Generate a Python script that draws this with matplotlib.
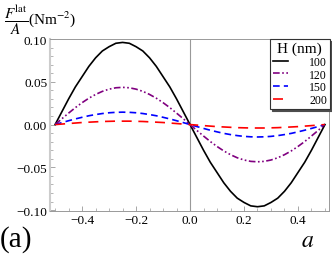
import numpy as np
import matplotlib
matplotlib.use("Agg")
import matplotlib.pyplot as plt
from matplotlib.ticker import MultipleLocator, FixedLocator

plt.rcParams['font.family'] = ['Liberation Serif', 'DejaVu Serif']
plt.rcParams['mathtext.fontset'] = 'stix'

# x grid (a)
a_vals = np.linspace(-0.5, 0.5, 41)

f_100 = [0.0, 0.015, 0.030, 0.044, 0.056, 0.068, 0.078, 0.086, 0.091, 0.095, 0.096,
         0.095, 0.091, 0.086, 0.078, 0.068, 0.056, 0.044, 0.030, 0.015, 0.0,
         -0.015, -0.030, -0.044, -0.056, -0.068, -0.078, -0.086, -0.091, -0.095, -0.096,
         -0.095, -0.091, -0.086, -0.078, -0.068, -0.056, -0.044, -0.030, -0.015, 0.0]
f_120 = [0.0, 0.0068, 0.0134, 0.0198, 0.0256, 0.0308, 0.0352, 0.0388, 0.0414, 0.0430, 0.0435,
         0.0430, 0.0414, 0.0388, 0.0352, 0.0308, 0.0256, 0.0198, 0.0134, 0.0068, 0.0,
         -0.0068, -0.0134, -0.0198, -0.0256, -0.0308, -0.0352, -0.0388, -0.0414, -0.0430, -0.0435,
         -0.0430, -0.0414, -0.0388, -0.0352, -0.0308, -0.0256, -0.0198, -0.0134, -0.0068, 0.0]
f_150 = [0.0, 0.0023, 0.0045, 0.0066, 0.0085, 0.0103, 0.0117, 0.0129, 0.0138, 0.0143, 0.0145,
         0.0143, 0.0138, 0.0129, 0.0117, 0.0103, 0.0085, 0.0066, 0.0045, 0.0023, 0.0,
         -0.0023, -0.0045, -0.0066, -0.0085, -0.0103, -0.0117, -0.0129, -0.0138, -0.0143, -0.0145,
         -0.0143, -0.0138, -0.0129, -0.0117, -0.0103, -0.0085, -0.0066, -0.0045, -0.0023, 0.0]
f_200 = [0.0, 0.0006, 0.0012, 0.0018, 0.0024, 0.0028, 0.0032, 0.0036, 0.0038, 0.0040, 0.0040,
         0.0040, 0.0038, 0.0036, 0.0032, 0.0028, 0.0024, 0.0018, 0.0012, 0.0006, 0.0,
         -0.0006, -0.0012, -0.0018, -0.0024, -0.0028, -0.0032, -0.0036, -0.0038, -0.0040, -0.0040,
         -0.0040, -0.0038, -0.0036, -0.0032, -0.0028, -0.0024, -0.0018, -0.0012, -0.0006, 0.0]

labels = ['100', '120', '150', '200']
series = [f_100, f_120, f_150, f_200]
colors = ['black', '#800080', '#0000ff', '#ff0000']
styles = ['-', (0, (4, 1.5, 1, 1.5, 1, 1.5)), (0, (4, 2.5)), (0, (6, 4))]

xticks = [-0.4, -0.2, 0.0, 0.2, 0.4]
xticklabels = ['\u22120.4', '\u22120.2', '0.0', '0.2', '0.4']
yticks = [-0.10, -0.05, 0.0, 0.05, 0.10]
yticklabels = ['\u22120.10', '\u22120.05', '0.00', '0.05', '0.10']

W, H = 332, 255
fig = plt.figure(figsize=(W / 100, H / 100), dpi=100)
ax = fig.add_axes([50 / W, 1 - 212 / H, (329 - 50) / W, (212 - 40) / H])

ax.axvline(0, color='0.6', lw=0.8, zorder=1)
for y, lab, c, ls in zip(series, labels, colors, styles):
    ax.plot(a_vals, y, color=c, ls=ls, lw=1.2, label=lab, zorder=3)

ax.set_xlim(-0.519, 0.515)
ax.set_ylim(-0.101, 0.100)

ax.xaxis.set_major_locator(FixedLocator(xticks))
ax.set_xticklabels(xticklabels)
ax.yaxis.set_major_locator(FixedLocator(yticks))
ax.set_yticklabels(yticklabels)
ax.xaxis.set_minor_locator(MultipleLocator(0.05))
ax.yaxis.set_minor_locator(MultipleLocator(0.01))
ax.tick_params(which='both', direction='in', color='0.6', labelsize=9.5,
               top=False, right=False, pad=2)
ax.tick_params(which='major', length=3.5, width=0.6)
ax.tick_params(which='minor', length=2, width=0.5)

for s in ['top', 'right', 'bottom']:
    ax.spines[s].set_color('0.6')
    ax.spines[s].set_linewidth(0.7)
ax.spines['left'].set_color('0.8')
ax.spines['left'].set_linewidth(1.5)

leg = ax.legend(title='H (nm)', loc='upper right',
                bbox_to_anchor=(330 / W, 1 - 40 / H), bbox_transform=fig.transFigure,
                borderaxespad=0, fontsize=8.5, title_fontsize=11, frameon=True,
                fancybox=False, shadow={'ox': 1.5, 'oy': -1.5, 'color': '0.3', 'alpha': 1},
                handlelength=1.3, handletextpad=1.8, labelspacing=0.05,
                borderpad=0.25)
leg.get_frame().set_edgecolor('0.2')
leg.get_frame().set_linewidth(0.8)
leg.get_frame().set_alpha(1)

fig.text(4 / W, 1 - 20 / H, r'$\dfrac{F^{\mathrm{lat}}}{A}$(Nm$^{-2}$)', fontsize=11, va='center', ha='left')
fig.text(0 / W, 1 - 240 / H, '(a)', fontsize=21, va='center', ha='left')
fig.text(308 / W, 1 - 242 / H, r'$a$', fontsize=17, va='center', ha='center')

fig.savefig('out.png', dpi=100)
